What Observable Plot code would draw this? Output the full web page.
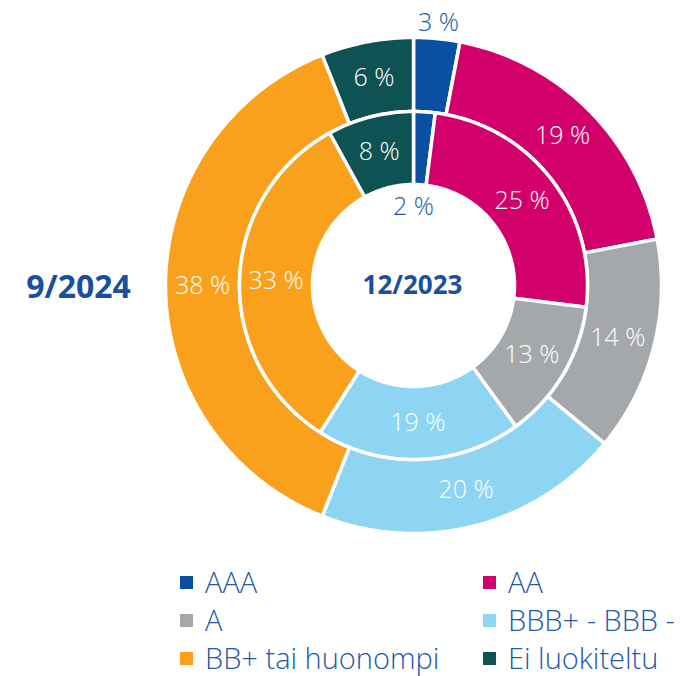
<!DOCTYPE html>
<html>
<head>
<meta charset="utf-8">
<script src="https://cdn.jsdelivr.net/npm/d3@7"></script>
<script src="https://cdn.jsdelivr.net/npm/@observablehq/plot@0.6"></script>
<style>
  body { margin: 0; background: #fff; font-family: "Open Sans", "Noto Sans", sans-serif; }
  #wrap { width: 685px; }
  .legend { display: grid; grid-template-columns: 303px 200px; margin-left: 180px; margin-top: 12px; }
  .item { display: flex; align-items: center; height: 38px; font-size: 29px; font-weight: 350; color: #2459a8; white-space: nowrap; }
  .sw { width: 13px; height: 13px; margin-right: 12px; flex: none; margin-top: 3px; }
</style>
</head>
<body>
<div id="wrap"></div>
<script>
const categories = ["AAA", "AA", "A", "BBB+ - BBB -", "BB+ tai huonompi", "Ei luokiteltu"];
const colors = ["#0b4fa3", "#d1006a", "#a4a8ab", "#8dd5f2", "#f9a11c", "#0f5253"];
const values2024 = [3, 19, 14, 20, 38, 6];   // outer ring
const values2023 = [2, 25, 13, 19, 33, 8];   // inner ring
const ringLabels = ["9/2024", "12/2023"];

const W = 685, H = 550, cx = 413, cy = 285;
const rings = [
  {name: ringLabels[0], values: values2024, r0: 174, r1: 248},
  {name: ringLabels[1], values: values2023, r0: 101, r1: 174}
];

const pie = d3.pie().sort(null).value(d => d);
const polys = [];
const labels = [];
rings.forEach((ring, ri) => {
  const arcs = pie(ring.values);
  arcs.forEach((a, i) => {
    const id = ring.name + "-" + i;
    const n = Math.max(4, Math.ceil((a.endAngle - a.startAngle) / 0.01));
    const pts = [];
    for (let k = 0; k <= n; k++) {
      const t = a.startAngle + (a.endAngle - a.startAngle) * k / n;
      pts.push({id, cat: categories[i], x: ring.r1 * Math.sin(t), y: -ring.r1 * Math.cos(t)});
    }
    for (let k = n; k >= 0; k--) {
      const t = a.startAngle + (a.endAngle - a.startAngle) * k / n;
      pts.push({id, cat: categories[i], x: ring.r0 * Math.sin(t), y: -ring.r0 * Math.cos(t)});
    }
    polys.push(...pts);
    let mid = (a.startAngle + a.endAngle) / 2;
    const small = ring.values[i] < 5;
    let r = (ring.r0 + ring.r1) / 2;
    if (small) { r = ri === 0 ? ring.r1 + 16 : ring.r0 - 22; if (ri === 1) mid = 0; }
    labels.push({x: r * Math.sin(mid), y: -r * Math.cos(mid), text: ring.values[i] + " %", small});
  });
});

const chart = Plot.plot({
  width: W, height: H,
  margin: 0,
  x: {domain: [-cx, W - cx], range: [0, W], axis: null},
  y: {domain: [-cy, H - cy], range: [0, H], axis: null},
  color: {domain: categories, range: colors},
  style: {fontFamily: "'Open Sans', 'Noto Sans', sans-serif", background: "white"},
  marks: [
    Plot.line(polys, {x: "x", y: "y", z: "id", fill: "cat", stroke: "white", strokeWidth: 3.5, curve: "linear-closed"}),
    Plot.text(labels.filter(d => !d.small), {x: "x", y: "y", text: "text", fill: "white", fontSize: 25, fontWeight: 350}),
    Plot.text(labels.filter(d => d.small), {x: "x", y: "y", text: "text", fill: "#2459a8", fontSize: 25, fontWeight: 350}),
    Plot.text([ringLabels[0]], {x: -rings[0].r1 - 87, y: 2, text: d => d, fill: "#1a4f9f", fontSize: 32, fontWeight: "bold"}),
    Plot.text([ringLabels[1]], {x: -1, y: 0, text: d => d, fill: "#1a4f9f", fontSize: 26, fontWeight: "bold"})
  ]
});

const wrap = document.getElementById("wrap");
wrap.appendChild(chart);
const legend = document.createElement("div");
legend.className = "legend";
categories.forEach((c, i) => {
  const it = document.createElement("div");
  it.className = "item";
  it.innerHTML = `<span class="sw" style="background:${colors[i]}"></span><span>${c}</span>`;
  legend.appendChild(it);
});
wrap.appendChild(legend);
</script>
</body>
</html>
